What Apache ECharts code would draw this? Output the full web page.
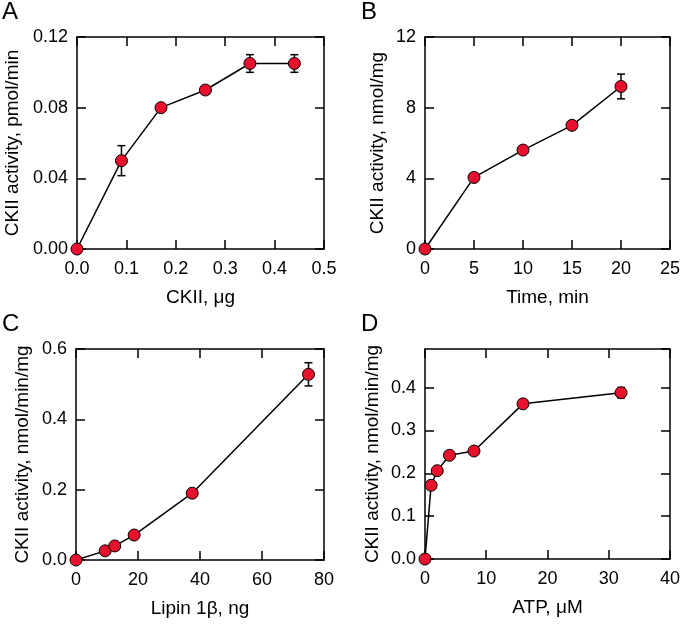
<!DOCTYPE html>
<html>
<head>
<meta charset="utf-8">
<script src="https://cdn.jsdelivr.net/npm/echarts@6/dist/echarts.min.js"></script>
<style>
  html, body { margin: 0; padding: 0; background: #fff; }
  #chart { width: 683px; height: 625px; }
</style>
</head>
<body>
<div id="chart"></div>
<script>
// A: CKII amount
var aX = [0, 0.09, 0.17, 0.26, 0.35, 0.44];
var aY = [0, 0.05, 0.08, 0.09, 0.105, 0.105];
var aErr = [0, 0.0085, 0, 0, 0.005, 0.005];
// B: time
var bX = [0, 5, 10, 15, 20];
var bY = [0, 4.05, 5.6, 7.0, 9.2];
var bErr = [0, 0, 0, 0, 0.7];
// C: lipin 1beta
var cX = [0, 9.4, 12.5, 18.75, 37.5, 75];
var cY = [0, 0.026, 0.04, 0.071, 0.19, 0.528];
var cErr = [0, 0, 0, 0, 0.012, 0.033];
// D: ATP
var dX = [0, 1, 2, 4, 8, 16, 32];
var dY = [0, 0.172, 0.206, 0.242, 0.252, 0.362, 0.388];
var dErr = [0, 0, 0, 0, 0, 0, 0.012];

var FONT = "'Liberation Sans', Arial, sans-serif";

var panels = [
  { x: aX, y: aY, err: aErr, grid: { left: 77, top: 37, width: 247, height: 212 },
    xr: [0, 0.5, 0.1], yr: [0, 0.12, 0.04], xf: 1, yf: 2,
    xName: 'CKII, \u03bcg', yName: 'CKII activity, pmol/min', yGap: 55, letter: 'A' },
  { x: bX, y: bY, err: bErr, grid: { left: 425, top: 37, width: 248, height: 212 },
    xr: [0, 25, 5], yr: [0, 12, 4], xf: 0, yf: 0,
    xName: 'Time, min', yName: 'CKII activity, nmol/mg', yGap: 38, letter: 'B' },
  { x: cX, y: cY, err: cErr, grid: { left: 76, top: 349, width: 248, height: 211 },
    xr: [0, 80, 20], yr: [0, 0.6, 0.2], xf: 0, yf: 1,
    xName: 'Lipin 1\u03b2, ng', yName: 'CKII activity, nmol/min/mg', yGap: 44, letter: 'C' },
  { x: dX, y: dY, err: dErr, grid: { left: 425, top: 349, width: 248, height: 210 },
    xr: [0, 40, 10], yr: [0, 0.49, 0.1], xf: 0, yf: 1, hideMax: true,
    xName: 'ATP, \u03bcM', yName: 'CKII activity, nmol/min/mg', yGap: 43, letter: 'D' }
];

var lineStyle = { color: '#000', width: 1.5 };

function axis(pos, gi, r, digits, show, name, gap, hideMax) {
  var o = {
    type: 'value', gridIndex: gi, position: pos,
    min: r[0], max: r[1], interval: r[2],
    axisLine: { show: true, onZero: false, lineStyle: lineStyle },
    axisTick: { show: true, inside: true, length: 9, lineStyle: lineStyle },
    splitLine: { show: false },
    axisLabel: {
      show: show, margin: pos === 'bottom' ? 11 : 9, color: '#000', fontSize: 18, fontFamily: FONT,
      showMaxLabel: hideMax ? false : null,
      formatter: function (v) { return v.toFixed(digits); }
    }
  };
  if (name) {
    o.name = name;
    o.nameLocation = 'middle';
    o.nameGap = gap;
    o.nameTextStyle = { color: '#000', fontSize: 19, fontFamily: FONT };
  }
  return o;
}

var grids = [], xAxes = [], yAxes = [], series = [], graphics = [];

panels.forEach(function (p, i) {
  grids.push(p.grid);
  xAxes.push(axis('bottom', i, p.xr, p.xf, true, p.xName, 39));
  xAxes.push(axis('top', i, p.xr, p.xf, false));
  yAxes.push(axis('left', i, p.yr, p.yf, true, p.yName, p.yGap, p.hideMax));
  yAxes.push(axis('right', i, p.yr, p.yf, false));

  var pts = p.x.map(function (v, k) { return [v, p.y[k]]; });
  var bars = [];
  p.err.forEach(function (e, k) {
    if (e > 0) bars.push([p.x[k], p.y[k] - e, p.y[k] + e]);
  });

  series.push({
    type: 'custom', xAxisIndex: 2 * i, yAxisIndex: 2 * i, z: 1,
    data: bars, silent: true,
    renderItem: function (params, api) {
      var lo = api.coord([api.value(0), api.value(1)]);
      var hi = api.coord([api.value(0), api.value(2)]);
      var w = 4;
      var st = { stroke: '#000', lineWidth: 1.5 };
      return {
        type: 'group',
        children: [
          { type: 'line', shape: { x1: lo[0], y1: lo[1], x2: hi[0], y2: hi[1] }, style: st },
          { type: 'line', shape: { x1: lo[0] - w, y1: lo[1], x2: lo[0] + w, y2: lo[1] }, style: st },
          { type: 'line', shape: { x1: hi[0] - w, y1: hi[1], x2: hi[0] + w, y2: hi[1] }, style: st }
        ]
      };
    }
  });

  series.push({
    type: 'line', xAxisIndex: 2 * i, yAxisIndex: 2 * i, z: 3,
    data: pts, symbol: 'circle', symbolSize: 12, showAllSymbol: true,
    lineStyle: lineStyle,
    itemStyle: { color: '#e8112d', borderColor: '#000', borderWidth: 1 },
    animation: false, silent: true
  });

  graphics.push({
    type: 'text',
    left: i % 2 === 0 ? 2 : 361,
    top: i < 2 ? 0 : 312,
    style: { text: p.letter, fontSize: 24, fontFamily: FONT, fill: '#000' }
  });
});

var chart = echarts.init(document.getElementById('chart'));
chart.setOption({
  animation: false,
  grid: grids,
  xAxis: xAxes,
  yAxis: yAxes,
  series: series,
  graphic: graphics
});
</script>
</body>
</html>
